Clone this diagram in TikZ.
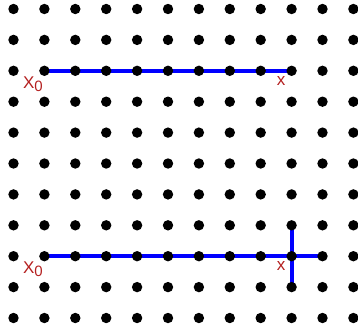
\documentclass[tikz,border=0pt]{standalone}
\usepackage{fontspec}
\setmainfont{Liberation Sans}
\definecolor{lblred}{RGB}{180,32,32}

\begin{document}
\begin{tikzpicture}[x=1pt,y=-1pt,
    walk/.style={draw=blue,line width=3.8pt},
    lbl/.style={text=lblred,font=\fontsize{17}{17}\selectfont,inner sep=0pt}]
  \useasboundingbox (0,0) rectangle (358,330);
  % lattice points
  \foreach \i in {0,...,11}
    \foreach \j in {0,...,10}
      \coordinate (p\i-\j) at ({13.5+30.9*\i},{9+30.9*\j});
  % upper walk
  \path[walk] (p1-2) -- (p9-2);
  % lower walk with cross
  \path[walk] (p1-8) -- (p10-8);
  \path[walk] (p9-7) -- (p9-9);
  \foreach \i in {0,...,11}
    \foreach \j in {0,...,10}
      \fill (p\i-\j) circle (5.2pt);
  \node[lbl] (xa) at (33,84) {X\raisebox{-3pt}{\fontsize{15}{15}\selectfont 0}};
  \node[lbl] (ya) at (281,81) {x};
  \node[lbl] (xb) at (33,269) {X\raisebox{-3pt}{\fontsize{15}{15}\selectfont 0}};
  \node[lbl] (yb) at (281,266) {x};
\end{tikzpicture}
\end{document}
